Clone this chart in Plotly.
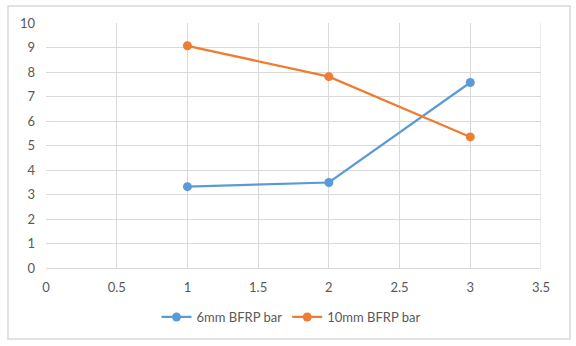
import plotly.graph_objects as go

x_vals = [1, 2, 3]
series_6mm = [3.32, 3.49, 7.57]
series_10mm = [9.07, 7.81, 5.35]
names = ["6mm BFRP bar", "10mm BFRP bar"]

fig = go.Figure()
fig.add_trace(go.Scatter(x=x_vals, y=series_6mm, name=names[0], mode="lines+markers",
                         line=dict(color="#5B9BD5", width=2.25),
                         marker=dict(color="#5B9BD5", size=9)))
fig.add_trace(go.Scatter(x=x_vals, y=series_10mm, name=names[1], mode="lines+markers",
                         line=dict(color="#ED7D31", width=2.25),
                         marker=dict(color="#ED7D31", size=9)))

fig.update_layout(
    width=576, height=346,
    margin=dict(l=46, r=35, t=23, b=78, autoexpand=False),
    paper_bgcolor="white", plot_bgcolor="white",
    font=dict(family="Lato, Open Sans, sans-serif", size=13, color="#595959"),
    legend=dict(orientation="h", x=0.495, xanchor="center", y=-0.2, yanchor="middle",
                font=dict(size=13, color="#595959"), itemwidth=30),
    shapes=[dict(type="rect", xref="paper", yref="paper",
                 x0=-0.0768, x1=1.0586, y0=-0.29, y1=1.069,
                 line=dict(color="#D9D9D9", width=1.5), fillcolor="rgba(0,0,0,0)", layer="below")],
)
fig.update_xaxes(range=[0, 3.5], dtick=0.5, tick0=0, showgrid=True, gridcolor="#D9D9D9",
                 gridwidth=1, zeroline=False, showline=True, linecolor="#D9D9D9",
                 ticks="", ticklabelstandoff=7, automargin=False)
fig.update_yaxes(range=[0, 10], dtick=1, tick0=0, showgrid=True, gridcolor="#D9D9D9",
                 gridwidth=1, zeroline=False, showline=False, ticks="", ticklabelstandoff=10,
                 automargin=False)
fig.add_shape(type="line", xref="x", yref="paper", x0=3.5, x1=3.5, y0=0, y1=1,
              line=dict(color="#D9D9D9", width=1), layer="below")

fig.write_html("out.html", config={"displayModeBar": False},
               post_script="document.body.style.margin='0';")
